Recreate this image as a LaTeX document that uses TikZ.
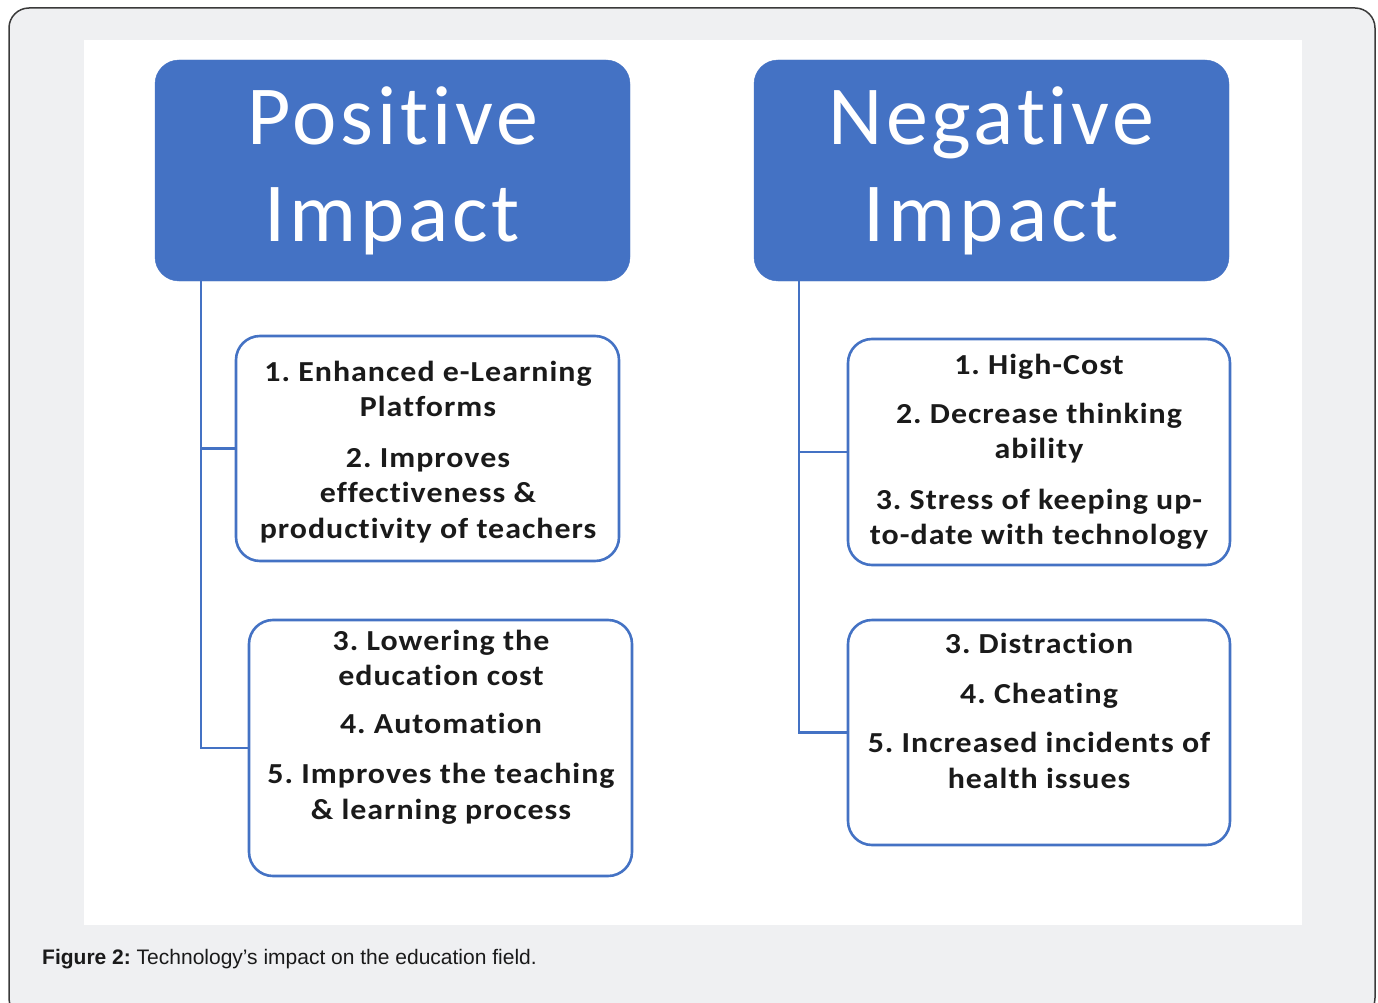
\documentclass[tikz,border=0pt]{standalone}
\usepackage{fontspec}
\setmainfont{Carlito}[Ligatures=NoCommon]
\newfontfamily\headfont{Carlito}[Ligatures=NoCommon, LetterSpace=4.5]
\newfontfamily\itemfont{Carlito}[Ligatures=NoCommon, FakeStretch=1.1, LetterSpace=3.5]
\newfontfamily\capfont{Liberation Sans}
\usetikzlibrary{positioning}
\frenchspacing

\definecolor{hdrblue}{HTML}{4472C4}
\definecolor{pagegray}{HTML}{EFF0F2}
\definecolor{framegray}{HTML}{3A3A3A}
\definecolor{inkblack}{HTML}{1A1A1A}

\tikzset{
    header/.style={fill=hdrblue, draw=hdrblue, rounded corners=24pt, minimum width=475pt,
        minimum height=221pt, inner sep=0pt, text=white, align=center,
        font=\headfont\fontsize{84}{97}\selectfont},
    itembox/.style={draw=hdrblue, line width=2.6pt, rounded corners=24pt, fill=white,
        inner sep=0pt},
    itemtext/.style={align=center, text=inkblack, inner sep=0pt,
        font=\itemfont\bfseries\fontsize{29}{35.5}\selectfont},
    link/.style={draw=hdrblue, line width=2.6pt},
}

\begin{document}
\begin{tikzpicture}[x=1pt, y=-1pt]
    \useasboundingbox (0,0) rectangle (1378,1003);

    % page and white panel
    \draw[fill=pagegray, draw=framegray, line width=1.5pt, rounded corners=20pt] (9,8) rectangle (1375,1018);
    \fill[white] (84,40) rectangle (1302,925);

    % headers
    \node[header] (ph) at (392.5,170.5) {Positive\\Impact};
    \node[header] (nh) at (991.5,170.5) {Negative\\Impact};

    % positive side
    \node[itembox, minimum width=383pt, minimum height=225pt] (p1) at (427.5,448.5) {};
    \node[itembox, minimum width=383pt, minimum height=256pt] (p2) at (440.5,748) {};
    \node[itemtext] (p1t) at (428,452) {1. Enhanced e-Learning\\Platforms\\[15pt]
        2. Improves\\effectiveness \&\\productivity of teachers};
    \node[itemtext] (p2t) at (441,727) {3. Lowering the\\education cost\\[12pt]
        4. Automation\\[15pt]5. Improves the teaching\\\& learning process};

    % negative side
    \node[itembox, minimum width=382pt, minimum height=226pt] (n1) at (1039,452) {};
    \node[itembox, minimum width=382pt, minimum height=225pt] (n2) at (1039,732.5) {};
    \node[itemtext] (n1t) at (1039,452) {1. High-Cost\\[13pt]2. Decrease thinking\\ability\\[15pt]
        3. Stress of keeping up-\\to-date with technology};
    \node[itemtext] (n2t) at (1039,711) {3. Distraction\\[14pt]4. Cheating\\[14pt]
        5. Increased incidents of\\health issues};

    % tree lines
    \coordinate (pstem) at ([xshift=46pt]ph.south west);
    \coordinate (nstem) at ([xshift=45pt]nh.south west);
    \draw[link] (pstem) |- (p2.west);
    \draw[link] (pstem) |- (p1.west);
    \draw[link] (nstem) |- (n2.west);
    \draw[link] (nstem) |- (n1.west);

    % caption
    \node[anchor=west, inner sep=0pt, text=inkblack, font=\capfont\fontsize{21}{25}\selectfont] (cap)
        at (42,959) {\textbf{Figure 2:} Technology’s impact on the education field.};
\end{tikzpicture}
\end{document}
